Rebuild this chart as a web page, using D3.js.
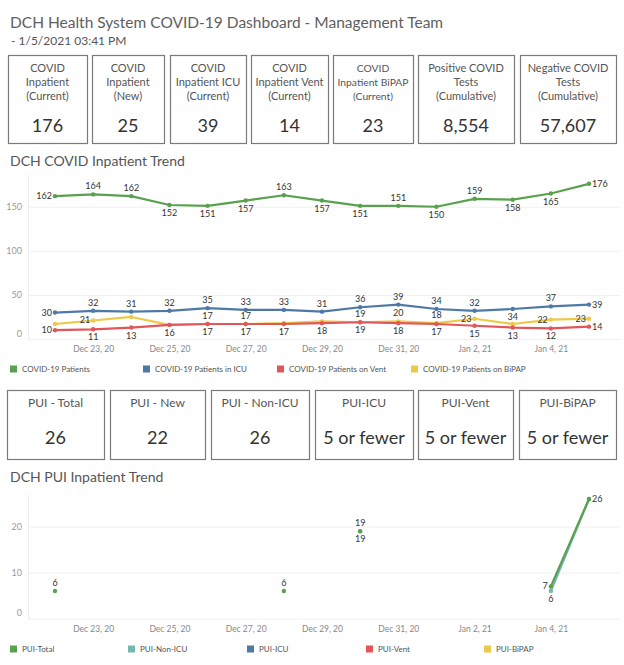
<!DOCTYPE html>
<html>
<head>
<meta charset="utf-8">
<script src="https://cdn.jsdelivr.net/npm/d3@7"></script>
<style>
  body { margin: 0; background: #fff; }
  text { font-family: Lato, "Open Sans", sans-serif; }
</style>
</head>
<body>
<div id="dash"></div>
<script>
// ---- data ----
const dates = ['2020-12-22', '2020-12-23', '2020-12-24', '2020-12-25', '2020-12-26', '2020-12-27', '2020-12-28',
  '2020-12-29', '2020-12-30', '2020-12-31', '2021-01-01', '2021-01-02', '2021-01-03', '2021-01-04', '2021-01-05'];
const dateTicks = ['2020-12-23', '2020-12-25', '2020-12-27', '2020-12-29', '2020-12-31', '2021-01-02', '2021-01-04'];

const covidPatients = [162, 164, 162, 152, 151, 157, 163, 157, 151, 151, 150, 159, 158, 165, 176];
const covidIcu = [30, 32, 31, 32, 35, 33, 33, 31, 36, 39, 34, 32, 34, 37, 39];
const covidVent = [10, 11, 13, 16, 17, 17, 17, 18, 19, 18, 17, 15, 13, 12, 14];
const covidBipap = [17, 21, 25, 16, 17, 17, 18, 20, 19, 20, 18, 23, 17, 22, 23];
const covidTicks = [0, 50, 100, 150];

const puiTotal = [6, null, null, null, null, null, 6, null, 19, null, null, null, null, 7, 26];
const puiNonIcu = [null, null, null, null, null, null, null, null, 19, null, null, null, null, 6, 26];
const puiIcu = dates.map(() => null);
const puiVent = dates.map(() => null);
const puiBipap = dates.map(() => null);
const puiTicks = [0, 10, 20];

const kpiLabels = [
  ['COVID', 'Inpatient', '(Current)'],
  ['COVID', 'Inpatient', '(New)'],
  ['COVID', 'Inpatient ICU', '(Current)'],
  ['COVID', 'Inpatient Vent', '(Current)'],
  ['COVID', 'Inpatient BiPAP', '(Current)'],
  ['Positive COVID', 'Tests', '(Cumulative)'],
  ['Negative COVID', 'Tests', '(Cumulative)']
];
const kpiValues = [176, 25, 39, 14, 23, 8554, 57607];

const puiLabels = ['PUI - Total', 'PUI - New', 'PUI - Non-ICU', 'PUI-ICU', 'PUI-Vent', 'PUI-BiPAP'];
const puiValues = ['26', '22', '26', '5 or fewer', '5 or fewer', '5 or fewer'];

// ---- layout ----
const W = 624, H = 665;
const parse = d3.timeParse('%Y-%m-%d');
const fmtDate = d3.timeFormat('%b %-d, %y');
const textCol = '#555';

const svg = d3.select('#dash').append('svg')
  .attr('width', W).attr('height', H)
  .attr('viewBox', `0 0 ${W} ${H}`);

svg.append('text').attr('x', 10).attr('y', 28)
  .attr('font-size', 15.5).attr('fill', '#606060')
  .text('DCH Health System COVID-19 Dashboard - Management Team');
svg.append('text').attr('x', 11).attr('y', 45)
  .attr('font-size', 12).attr('fill', textCol)
  .text('- 1/5/2021 03:41 PM');

function drawBoxes(edges, top, bottom, draw) {
  edges.forEach(([x0, x1], i) => {
    const g = svg.append('g').attr('transform', `translate(${x0},${top})`);
    g.append('rect')
      .attr('x', 0.5).attr('y', 0.5)
      .attr('width', x1 - x0).attr('height', bottom - top)
      .attr('fill', '#fff').attr('stroke', '#7a7a7a').attr('stroke-width', 1.2);
    draw(g, i, (x1 - x0) / 2);
  });
}

// top KPI row
const kpiEdges = [[8, 87], [92, 164], [170, 246], [251, 328], [333, 413], [418, 514], [520, 616]];
drawBoxes(kpiEdges, 55, 143, (g, i, cx) => {
  g.selectAll('text.lbl')
    .data(kpiLabels[i])
    .join('text')
    .attr('class', 'lbl')
    .attr('x', cx)
    .attr('y', (d, j) => 17 + j * 14)
    .attr('text-anchor', 'middle')
    .attr('font-size', i === 4 ? 10.3 : 11)
    .attr('fill', textCol)
    .text(d => d);
  g.append('text')
    .attr('x', cx).attr('y', 77)
    .attr('text-anchor', 'middle')
    .attr('font-size', 18).attr('fill', '#333')
    .text(d3.format(',')(kpiValues[i]));
});

// PUI row
const puiEdges = [[7, 104], [110, 205], [211, 309], [315, 413], [418, 513], [519, 616]];
drawBoxes(puiEdges, 390, 459, (g, i, cx) => {
  g.append('text')
    .attr('x', cx).attr('y', 17)
    .attr('text-anchor', 'middle')
    .attr('font-size', 12).attr('fill', textCol)
    .text(puiLabels[i]);
  g.append('text')
    .attr('x', cx).attr('y', 54)
    .attr('text-anchor', 'middle')
    .attr('font-size', 18).attr('fill', '#333')
    .text(puiValues[i]);
});

// ---- trend charts ----
const x = d3.scaleTime()
  .domain([parse(dates[0]), parse(dates[dates.length - 1])])
  .range([55, 589]);

function trendChart(cfg) {
  const g = svg.append('g');
  const y = d3.scaleLinear().domain(cfg.domain).range(cfg.range);

  g.append('text').attr('x', 10).attr('y', cfg.titleY)
    .attr('font-size', 14).attr('fill', textCol)
    .text(cfg.title);

  const yAxis = g.append('g')
    .attr('transform', 'translate(28,0)')
    .call(d3.axisLeft(y).tickValues(cfg.ticks).tickSize(-592).tickSizeOuter(0).tickPadding(6));
  yAxis.select('.domain').attr('stroke', '#ececec');
  yAxis.selectAll('.tick line').attr('stroke', '#f0f0f0');
  yAxis.selectAll('.tick text')
    .attr('fill', '#999').attr('font-size', 9)
    .attr('dy', d => d === 0 ? '-0.3em' : '0.32em');

  const xAxis = g.append('g')
    .attr('transform', `translate(0,${cfg.range[0]})`)
    .call(d3.axisBottom(x).tickValues(dateTicks.map(parse)).tickFormat(fmtDate).tickSize(0).tickPadding(7));
  xAxis.select('.domain').remove();
  xAxis.selectAll('.tick text').attr('fill', '#888').attr('font-size', 8.5);

  cfg.series.forEach(s => {
    const pts = dates.map((d, i) => ({ date: parse(d), v: s.values[i], pos: s.labels ? s.labels[i] : '' }));
    const line = d3.line()
      .defined(d => d.v != null)
      .x(d => x(d.date))
      .y(d => y(d.v));
    g.append('path')
      .datum(pts)
      .attr('fill', 'none')
      .attr('stroke', s.color)
      .attr('stroke-width', 2.2)
      .attr('stroke-linejoin', 'round')
      .attr('d', line);
    const defined = pts.filter(d => d.v != null);
    g.selectAll(null)
      .data(defined)
      .join('circle')
      .attr('cx', d => x(d.date))
      .attr('cy', d => y(d.v))
      .attr('r', 2.2)
      .attr('fill', s.color);
    g.selectAll(null)
      .data(defined.filter(d => d.pos))
      .join('text')
      .attr('x', d => x(d.date) + (d.pos === 'l' ? -3 : d.pos === 'r' ? 3 : 0))
      .attr('y', d => y(d.v) + (d.pos === 'a' ? -5 : d.pos === 'b' ? 11 : 3))
      .attr('text-anchor', d => d.pos === 'l' ? 'end' : d.pos === 'r' ? 'start' : 'middle')
      .attr('font-size', 9)
      .attr('fill', '#333')
      .text(d => d.v);
  });

  const leg = g.selectAll('g.leg')
    .data(cfg.legend)
    .join('g')
    .attr('class', 'leg')
    .attr('transform', (d, i) => `translate(${cfg.legendX[i]},${cfg.legendY})`);
  leg.append('rect')
    .attr('x', 0).attr('y', -3.5).attr('width', 7).attr('height', 7)
    .attr('fill', d => d.color);
  leg.append('text')
    .attr('x', 12).attr('y', 3)
    .attr('font-size', 8).attr('fill', textCol)
    .text(d => d.name);
}

const green = '#59a14f', blue = '#4e79a7', red = '#e15759', yellow = '#edc948', teal = '#76b7b2';

trendChart({
  title: 'DCH COVID Inpatient Trend',
  titleY: 166,
  domain: [0, 186],
  range: [339, 175],
  ticks: covidTicks,
  series: [
    { values: covidBipap, color: yellow, labels: ['', 'l', '', '', 'a', 'a', '', '', 'a', 'a', 'a', 'l', '', 'l', 'l'] },
    { values: covidVent, color: red, labels: ['l', 'b', 'b', 'b', 'b', 'b', 'b', 'b', 'b', 'b', 'b', 'b', 'b', 'b', 'r'] },
    { values: covidIcu, color: blue, labels: ['l', 'a', 'a', 'a', 'a', 'a', 'a', 'a', 'a', 'a', 'a', 'a', 'b', 'a', 'r'] },
    { values: covidPatients, color: green, labels: ['l', 'a', 'a', 'b', 'b', 'b', 'a', 'b', 'b', 'a', 'b', 'a', 'b', 'b', 'r'] }
  ],
  legend: [
    { name: 'COVID-19 Patients', color: green },
    { name: 'COVID-19 Patients in ICU', color: blue },
    { name: 'COVID-19 Patients on Vent', color: red },
    { name: 'COVID-19 Patients on BiPAP', color: yellow }
  ],
  legendX: [10, 143, 277, 411],
  legendY: 369
});

trendChart({
  title: 'DCH PUI Inpatient Trend',
  titleY: 482,
  domain: [0, 27],
  range: [618.6, 494.4],
  ticks: puiTicks,
  series: [
    { values: puiBipap, color: yellow },
    { values: puiVent, color: red },
    { values: puiIcu, color: blue },
    { values: puiNonIcu, color: teal, labels: ['', '', '', '', '', '', '', '', 'b', '', '', '', '', 'b', ''] },
    { values: puiTotal, color: green, labels: ['a', '', '', '', '', '', 'a', '', 'a', '', '', '', '', 'l', 'r'] }
  ],
  legend: [
    { name: 'PUI-Total', color: green },
    { name: 'PUI-Non-ICU', color: teal },
    { name: 'PUI-ICU', color: blue },
    { name: 'PUI-Vent', color: red },
    { name: 'PUI-BiPAP', color: yellow }
  ],
  legendX: [10, 128, 247, 366, 484],
  legendY: 649
});
</script>
</body>
</html>
